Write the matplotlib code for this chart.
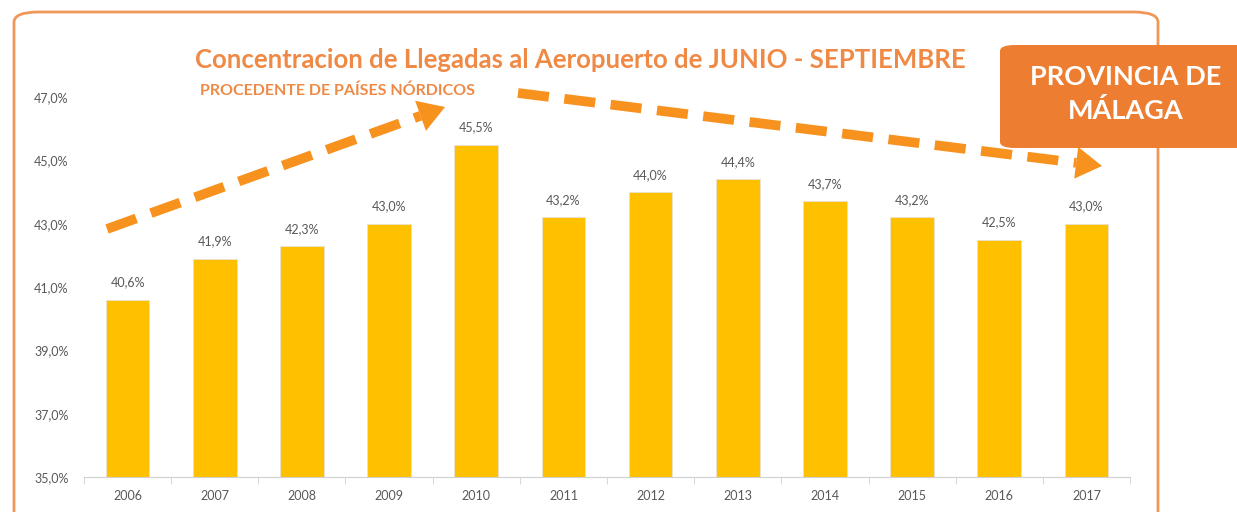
import matplotlib
matplotlib.use('Agg')
import matplotlib.pyplot as plt
from matplotlib.patches import FancyBboxPatch, Polygon
from matplotlib.lines import Line2D
import numpy as np

plt.rcParams['font.family'] = ['Lato', 'DejaVu Sans']

years = ['2006', '2007', '2008', '2009', '2010', '2011',
         '2012', '2013', '2014', '2015', '2016', '2017']
shares = [40.6, 41.9, 42.3, 43.0, 45.5, 43.2, 44.0, 44.4, 43.7, 43.2, 42.5, 43.0]
yticks = [35, 37, 39, 41, 43, 45, 47]

title = 'Concentracion de Llegadas al Aeropuerto de JUNIO - SEPTIEMBRE'
subtitle = 'PROCEDENTE DE PAÍSES NÓRDICOS'
badge = 'PROVINCIA DE\nMÁLAGA'

orange = '#ED7D31'
arrow_col = '#F7921E'
grey = '#595959'

W, H = 1237, 512
fig = plt.figure(figsize=(W / 100, H / 100), dpi=100)

def fx(px):
    return px / W

def fy(py):
    return 1 - py / H

# rounded frame
frame = FancyBboxPatch((fx(14), fy(540)), fx(1158) - fx(14), fy(12) - fy(540),
                       boxstyle='round,pad=0,rounding_size=0.02',
                       transform=fig.transFigure, fill=False,
                       edgecolor=orange, linewidth=2, alpha=0.8)
fig.add_artist(frame)

ax = fig.add_axes([fx(84), fy(477), fx(1130) - fx(84), fy(97) - fy(477)])
x = np.arange(len(years))
ax.bar(x, [s - 35 for s in shares], bottom=35, width=0.5, color='#FFC000',
       edgecolor='#E8E3D3', linewidth=0.6, zorder=2)
for xi, s in zip(x, shares):
    ax.text(xi, s + 0.35, ('%.1f%%' % s).replace('.', ','), ha='center', va='bottom',
            fontsize=9, color=grey)

ax.set_xlim(-0.5, len(years) - 0.5)
ax.set_ylim(35, 47)
ax.set_yticks(yticks)
ax.set_yticklabels([('%.1f%%' % v).replace('.', ',') for v in yticks])
ax.set_xticks(x)
ax.set_xticklabels(years)
ax.set_xticks(np.arange(-0.5, len(years), 1), minor=True)
ax.tick_params(axis='x', which='major', length=0, pad=9, labelsize=9, labelcolor=grey)
ax.tick_params(axis='x', which='minor', length=5, color='#D0D0D0', direction='out')
ax.tick_params(axis='y', length=0, pad=11, labelsize=9, labelcolor=grey)
for sp in ['top', 'right', 'left']:
    ax.spines[sp].set_visible(False)
ax.spines['bottom'].set_color('#D0D0D0')

fig.text(fx(580), fy(60), title, ha='center', va='center', fontsize=18.5,
         fontweight='bold', color=orange, alpha=0.9)
fig.text(fx(200), fy(91), subtitle, ha='left', va='center', fontsize=11.5,
         fontweight='bold', color=orange, alpha=0.9)

# dashed trend arrows (pixel coordinates of the figure)
def dashed_arrow(x0, y0, x1, y1, head_len=26, head_w=16):
    d = np.array([x1 - x0, y1 - y0], dtype=float)
    d /= np.hypot(*d)
    n = np.array([-d[1], d[0]])
    base = np.array([x1, y1]) - head_len * d
    fig.add_artist(Line2D([fx(x0), fx(base[0])], [fy(y0), fy(base[1])],
                          transform=fig.transFigure, color=arrow_col, linewidth=7,
                          linestyle=(0, (3.2, 1.6)), solid_capstyle='butt',
                          dash_capstyle='butt'))
    pts = [np.array([x1, y1]), base + head_w * n, base - head_w * n]
    fig.add_artist(Polygon([(fx(p[0]), fy(p[1])) for p in pts], closed=True,
                           transform=fig.transFigure, facecolor=arrow_col,
                           edgecolor='none'))

dashed_arrow(107, 229, 445, 107)
dashed_arrow(518, 93, 1102, 166)

# badge
box = FancyBboxPatch((fx(1000), fy(148)), fx(1260) - fx(1000), fy(45) - fy(148),
                     boxstyle='round,pad=0,rounding_size=0.012',
                     transform=fig.transFigure, facecolor=orange,
                     edgecolor='none', zorder=5)
fig.add_artist(box)
fig.text(fx(1126), fy(94), badge, ha='center', va='center', fontsize=19.5,
         fontweight='bold', color='white', linespacing=1.4, zorder=6)

fig.savefig('out.png', dpi=100)
